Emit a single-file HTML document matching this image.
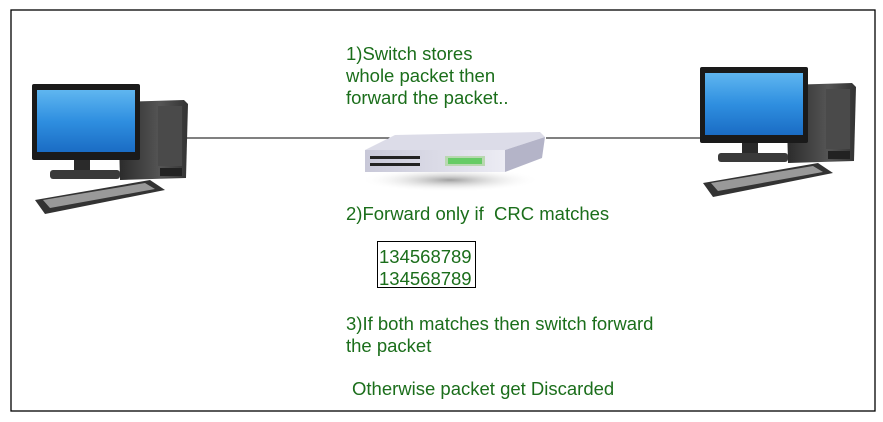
<!DOCTYPE html>
<html><head><style>
body{margin:0;background:#fff;width:883px;height:422px;overflow:hidden}
svg{display:block}
text{font-family:"Liberation Sans",sans-serif;font-size:18.5px;fill:#1b6e1b;white-space:pre}
</style></head><body>
<svg width="883" height="422" viewBox="0 0 883 422">
<defs>
<linearGradient id="scr" x1="0" y1="0" x2="0" y2="1"><stop offset="0" stop-color="#5fb6f0"/><stop offset="0.5" stop-color="#2f8fe0"/><stop offset="1" stop-color="#1a6cc4"/></linearGradient>
<linearGradient id="tow" x1="0" y1="0" x2="1" y2="0"><stop offset="0" stop-color="#2a2a2a"/><stop offset="0.6" stop-color="#555"/><stop offset="1" stop-color="#333"/></linearGradient>
<linearGradient id="sw" x1="0" y1="0" x2="1" y2="0"><stop offset="0" stop-color="#c8c8d8"/><stop offset="1" stop-color="#ececf4"/></linearGradient>
<radialGradient id="sh"><stop offset="0" stop-color="#777" stop-opacity="0.7"/><stop offset="1" stop-color="#fff" stop-opacity="0"/></radialGradient>
<g id="pc">
<polygon points="118,102 184,100 188,104 186,178 120,180" fill="url(#tow)"/>
<rect x="158" y="106" width="24" height="60" fill="#4a4a4a"/>
<rect x="160" y="168" width="22" height="8" fill="#222"/>
<rect x="32" y="84" width="108" height="76" fill="#1a1a1a" rx="2"/>
<rect x="37" y="90" width="98" height="62" fill="url(#scr)"/>
<rect x="74" y="160" width="16" height="12" fill="#2a2a2a"/>
<rect x="50" y="170" width="70" height="9" fill="#3a3a3a" rx="3"/>
<polygon points="35,200 150,180 165,190 45,214" fill="#333"/>
<polygon points="43,200 145,183 155,189 50,208" fill="#999"/>
</g>
</defs>
<rect x="11" y="10" width="864" height="401" fill="none" stroke="#000" stroke-width="1.3"/>
<line x1="186" y1="138" x2="396" y2="138" stroke="#000" stroke-width="1"/>
<line x1="546" y1="138" x2="760" y2="138" stroke="#000" stroke-width="1"/>
<use href="#pc" transform="translate(0,0)"/>
<use href="#pc" transform="translate(668,-17)"/>
<ellipse cx="450" cy="180" rx="90" ry="12" fill="url(#sh)"/>
<polygon points="395,135 540,132 545,137 505,150 365,150" fill="#dcdce8"/>
<rect x="365" y="150" width="140" height="22" fill="url(#sw)"/>
<polygon points="505,150 545,137 542,158 505,172" fill="#b4b4c8"/>
<g fill="#222">
<rect x="370" y="156" width="50" height="3"/><rect x="370" y="163" width="50" height="3"/>
</g>
<rect x="445" y="156" width="40" height="10" fill="#b8d8b0"/>
<rect x="448" y="158" width="34" height="6" fill="#6c6"/>
<text x="346" y="60">1)Switch stores</text>
<text x="346" y="82">whole packet then</text>
<text x="346" y="104">forward the packet..</text>
<text x="346" y="220">2)Forward only if  CRC matches</text>
<rect x="377.5" y="241.5" width="98" height="46" fill="none" stroke="#000" stroke-width="1"/>
<text x="379" y="263">134568789</text>
<text x="379" y="285">134568789</text>
<text x="346" y="330">3)If both matches then switch forward</text>
<text x="346" y="352">the packet</text>
<text x="352" y="395">Otherwise packet get Discarded</text>
</svg>
</body></html>
